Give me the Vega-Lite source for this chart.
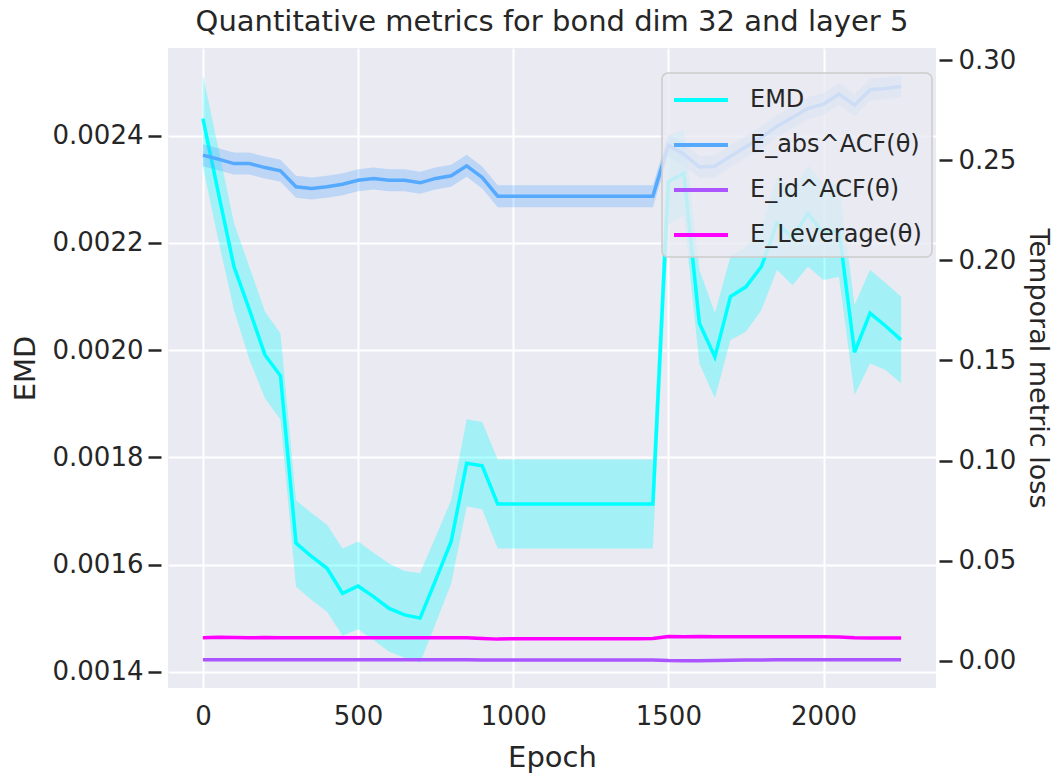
{
"$schema": "https://vega.github.io/schema/vega-lite/v6.json",
"width": 768, "height": 640,
"autosize": {"type": "none"},
"padding": {"left": 168, "top": 48, "right": 123, "bottom": 90},
"background": "white",
"title": {"text": "Quantitative metrics for bond dim 32 and layer 5", "font": "DejaVu Sans", "fontSize": 29, "fontWeight": "normal", "color": "#262626", "offset": 10, "anchor": "middle"},
"data": {"values": [
{"epoch":0,"series":"EMD","value":0.002432,"lo":0.002342,"hi":0.002513},
{"epoch":50,"series":"EMD","value":0.002293,"lo":0.002205,"hi":0.002376},
{"epoch":100,"series":"EMD","value":0.002156,"lo":0.002075,"hi":0.002237},
{"epoch":150,"series":"EMD","value":0.002075,"lo":0.001982,"hi":0.002155},
{"epoch":200,"series":"EMD","value":0.001991,"lo":0.00191,"hi":0.002072},
{"epoch":250,"series":"EMD","value":0.001952,"lo":0.00187,"hi":0.002031},
{"epoch":300,"series":"EMD","value":0.00164,"lo":0.001559,"hi":0.00172},
{"epoch":350,"series":"EMD","value":0.001615,"lo":0.001534,"hi":0.001696},
{"epoch":400,"series":"EMD","value":0.001593,"lo":0.001512,"hi":0.001674},
{"epoch":450,"series":"EMD","value":0.001546,"lo":0.001467,"hi":0.00163},
{"epoch":500,"series":"EMD","value":0.00156,"lo":0.001479,"hi":0.001643},
{"epoch":550,"series":"EMD","value":0.00154,"lo":0.001459,"hi":0.001622},
{"epoch":600,"series":"EMD","value":0.001518,"lo":0.001437,"hi":0.001602},
{"epoch":650,"series":"EMD","value":0.001506,"lo":0.001426,"hi":0.001588},
{"epoch":700,"series":"EMD","value":0.0015,"lo":0.001417,"hi":0.001584},
{"epoch":750,"series":"EMD","value":0.001571,"lo":0.00149,"hi":0.001652},
{"epoch":800,"series":"EMD","value":0.001643,"lo":0.001564,"hi":0.00172},
{"epoch":850,"series":"EMD","value":0.001789,"lo":0.001708,"hi":0.001871},
{"epoch":900,"series":"EMD","value":0.001784,"lo":0.001703,"hi":0.001866},
{"epoch":950,"series":"EMD","value":0.001713,"lo":0.00163,"hi":0.001796},
{"epoch":1000,"series":"EMD","value":0.001713,"lo":0.00163,"hi":0.001796},
{"epoch":1050,"series":"EMD","value":0.001713,"lo":0.00163,"hi":0.001796},
{"epoch":1100,"series":"EMD","value":0.001713,"lo":0.00163,"hi":0.001796},
{"epoch":1150,"series":"EMD","value":0.001713,"lo":0.00163,"hi":0.001796},
{"epoch":1200,"series":"EMD","value":0.001713,"lo":0.00163,"hi":0.001796},
{"epoch":1250,"series":"EMD","value":0.001713,"lo":0.00163,"hi":0.001796},
{"epoch":1300,"series":"EMD","value":0.001713,"lo":0.00163,"hi":0.001796},
{"epoch":1350,"series":"EMD","value":0.001713,"lo":0.00163,"hi":0.001796},
{"epoch":1400,"series":"EMD","value":0.001713,"lo":0.00163,"hi":0.001796},
{"epoch":1450,"series":"EMD","value":0.001713,"lo":0.00163,"hi":0.001796},
{"epoch":1500,"series":"EMD","value":0.002314,"lo":0.002235,"hi":0.0024},
{"epoch":1550,"series":"EMD","value":0.00233,"lo":0.00225,"hi":0.002411},
{"epoch":1600,"series":"EMD","value":0.00205,"lo":0.001975,"hi":0.00215},
{"epoch":1650,"series":"EMD","value":0.001987,"lo":0.00191,"hi":0.002069},
{"epoch":1700,"series":"EMD","value":0.0021,"lo":0.002019,"hi":0.002174},
{"epoch":1750,"series":"EMD","value":0.002118,"lo":0.002034,"hi":0.002193},
{"epoch":1800,"series":"EMD","value":0.002156,"lo":0.002075,"hi":0.00223},
{"epoch":1850,"series":"EMD","value":0.002237,"lo":0.00215,"hi":0.002324},
{"epoch":1900,"series":"EMD","value":0.00221,"lo":0.002121,"hi":0.002299},
{"epoch":1950,"series":"EMD","value":0.002255,"lo":0.002156,"hi":0.002345},
{"epoch":2000,"series":"EMD","value":0.002218,"lo":0.002131,"hi":0.002311},
{"epoch":2050,"series":"EMD","value":0.002223,"lo":0.002137,"hi":0.002311},
{"epoch":2100,"series":"EMD","value":0.001996,"lo":0.001916,"hi":0.002084},
{"epoch":2150,"series":"EMD","value":0.002069,"lo":0.001975,"hi":0.00215},
{"epoch":2200,"series":"EMD","value":0.002045,"lo":0.001963,"hi":0.002125},
{"epoch":2250,"series":"EMD","value":0.002019,"lo":0.001938,"hi":0.0021},
{"epoch":0,"series":"E_abs^ACF(θ)","value":0.2525,"lo":0.247,"hi":0.258},
{"epoch":50,"series":"E_abs^ACF(θ)","value":0.2505,"lo":0.245,"hi":0.256},
{"epoch":100,"series":"E_abs^ACF(θ)","value":0.2483,"lo":0.2428,"hi":0.2538},
{"epoch":150,"series":"E_abs^ACF(θ)","value":0.2483,"lo":0.2428,"hi":0.2538},
{"epoch":200,"series":"E_abs^ACF(θ)","value":0.2463,"lo":0.2408,"hi":0.2518},
{"epoch":250,"series":"E_abs^ACF(θ)","value":0.2447,"lo":0.2392,"hi":0.2502},
{"epoch":300,"series":"E_abs^ACF(θ)","value":0.2367,"lo":0.2312,"hi":0.2422},
{"epoch":350,"series":"E_abs^ACF(θ)","value":0.2359,"lo":0.2304,"hi":0.2414},
{"epoch":400,"series":"E_abs^ACF(θ)","value":0.2367,"lo":0.2312,"hi":0.2422},
{"epoch":450,"series":"E_abs^ACF(θ)","value":0.238,"lo":0.2325,"hi":0.2435},
{"epoch":500,"series":"E_abs^ACF(θ)","value":0.24,"lo":0.2345,"hi":0.2455},
{"epoch":550,"series":"E_abs^ACF(θ)","value":0.2409,"lo":0.2354,"hi":0.2464},
{"epoch":600,"series":"E_abs^ACF(θ)","value":0.24,"lo":0.2345,"hi":0.2455},
{"epoch":650,"series":"E_abs^ACF(θ)","value":0.24,"lo":0.2345,"hi":0.2455},
{"epoch":700,"series":"E_abs^ACF(θ)","value":0.2387,"lo":0.2332,"hi":0.2442},
{"epoch":750,"series":"E_abs^ACF(θ)","value":0.2409,"lo":0.2354,"hi":0.2464},
{"epoch":800,"series":"E_abs^ACF(θ)","value":0.2422,"lo":0.2367,"hi":0.2477},
{"epoch":850,"series":"E_abs^ACF(θ)","value":0.2472,"lo":0.2417,"hi":0.2527},
{"epoch":900,"series":"E_abs^ACF(θ)","value":0.2414,"lo":0.2359,"hi":0.2469},
{"epoch":950,"series":"E_abs^ACF(θ)","value":0.232,"lo":0.2265,"hi":0.2375},
{"epoch":1000,"series":"E_abs^ACF(θ)","value":0.232,"lo":0.2265,"hi":0.2375},
{"epoch":1050,"series":"E_abs^ACF(θ)","value":0.232,"lo":0.2265,"hi":0.2375},
{"epoch":1100,"series":"E_abs^ACF(θ)","value":0.232,"lo":0.2265,"hi":0.2375},
{"epoch":1150,"series":"E_abs^ACF(θ)","value":0.232,"lo":0.2265,"hi":0.2375},
{"epoch":1200,"series":"E_abs^ACF(θ)","value":0.232,"lo":0.2265,"hi":0.2375},
{"epoch":1250,"series":"E_abs^ACF(θ)","value":0.232,"lo":0.2265,"hi":0.2375},
{"epoch":1300,"series":"E_abs^ACF(θ)","value":0.232,"lo":0.2265,"hi":0.2375},
{"epoch":1350,"series":"E_abs^ACF(θ)","value":0.232,"lo":0.2265,"hi":0.2375},
{"epoch":1400,"series":"E_abs^ACF(θ)","value":0.232,"lo":0.2265,"hi":0.2375},
{"epoch":1450,"series":"E_abs^ACF(θ)","value":0.232,"lo":0.2265,"hi":0.2375},
{"epoch":1500,"series":"E_abs^ACF(θ)","value":0.2575,"lo":0.252,"hi":0.263},
{"epoch":1550,"series":"E_abs^ACF(θ)","value":0.253,"lo":0.2475,"hi":0.2585},
{"epoch":1600,"series":"E_abs^ACF(θ)","value":0.2466,"lo":0.2411,"hi":0.2521},
{"epoch":1650,"series":"E_abs^ACF(θ)","value":0.247,"lo":0.2415,"hi":0.2525},
{"epoch":1700,"series":"E_abs^ACF(θ)","value":0.252,"lo":0.2465,"hi":0.2575},
{"epoch":1750,"series":"E_abs^ACF(θ)","value":0.2567,"lo":0.2512,"hi":0.2622},
{"epoch":1800,"series":"E_abs^ACF(θ)","value":0.2613,"lo":0.2558,"hi":0.2668},
{"epoch":1850,"series":"E_abs^ACF(θ)","value":0.267,"lo":0.2615,"hi":0.2725},
{"epoch":1900,"series":"E_abs^ACF(θ)","value":0.2713,"lo":0.2658,"hi":0.2768},
{"epoch":1950,"series":"E_abs^ACF(θ)","value":0.2759,"lo":0.2704,"hi":0.2814},
{"epoch":2000,"series":"E_abs^ACF(θ)","value":0.278,"lo":0.2725,"hi":0.2835},
{"epoch":2050,"series":"E_abs^ACF(θ)","value":0.283,"lo":0.2775,"hi":0.2885},
{"epoch":2100,"series":"E_abs^ACF(θ)","value":0.2774,"lo":0.2719,"hi":0.2829},
{"epoch":2150,"series":"E_abs^ACF(θ)","value":0.2852,"lo":0.2797,"hi":0.2907},
{"epoch":2200,"series":"E_abs^ACF(θ)","value":0.2858,"lo":0.2803,"hi":0.2913},
{"epoch":2250,"series":"E_abs^ACF(θ)","value":0.2868,"lo":0.2813,"hi":0.2923},
{"epoch":0,"series":"E_id^ACF(θ)","value":0.0006,"lo":0.0002,"hi":0.001},
{"epoch":50,"series":"E_id^ACF(θ)","value":0.0006,"lo":0.0002,"hi":0.001},
{"epoch":100,"series":"E_id^ACF(θ)","value":0.0006,"lo":0.0002,"hi":0.001},
{"epoch":150,"series":"E_id^ACF(θ)","value":0.0006,"lo":0.0002,"hi":0.001},
{"epoch":200,"series":"E_id^ACF(θ)","value":0.0006,"lo":0.0002,"hi":0.001},
{"epoch":250,"series":"E_id^ACF(θ)","value":0.0006,"lo":0.0002,"hi":0.001},
{"epoch":300,"series":"E_id^ACF(θ)","value":0.0006,"lo":0.0002,"hi":0.001},
{"epoch":350,"series":"E_id^ACF(θ)","value":0.0006,"lo":0.0002,"hi":0.001},
{"epoch":400,"series":"E_id^ACF(θ)","value":0.0006,"lo":0.0002,"hi":0.001},
{"epoch":450,"series":"E_id^ACF(θ)","value":0.0006,"lo":0.0002,"hi":0.001},
{"epoch":500,"series":"E_id^ACF(θ)","value":0.0006,"lo":0.0002,"hi":0.001},
{"epoch":550,"series":"E_id^ACF(θ)","value":0.0006,"lo":0.0002,"hi":0.001},
{"epoch":600,"series":"E_id^ACF(θ)","value":0.0006,"lo":0.0002,"hi":0.001},
{"epoch":650,"series":"E_id^ACF(θ)","value":0.0006,"lo":0.0002,"hi":0.001},
{"epoch":700,"series":"E_id^ACF(θ)","value":0.0006,"lo":0.0002,"hi":0.001},
{"epoch":750,"series":"E_id^ACF(θ)","value":0.0006,"lo":0.0002,"hi":0.001},
{"epoch":800,"series":"E_id^ACF(θ)","value":0.0006,"lo":0.0002,"hi":0.001},
{"epoch":850,"series":"E_id^ACF(θ)","value":0.0006,"lo":0.0002,"hi":0.001},
{"epoch":900,"series":"E_id^ACF(θ)","value":0.0005,"lo":0.0001,"hi":0.0009},
{"epoch":950,"series":"E_id^ACF(θ)","value":0.0005,"lo":0.0001,"hi":0.0009},
{"epoch":1000,"series":"E_id^ACF(θ)","value":0.0005,"lo":0.0001,"hi":0.0009},
{"epoch":1050,"series":"E_id^ACF(θ)","value":0.0005,"lo":0.0001,"hi":0.0009},
{"epoch":1100,"series":"E_id^ACF(θ)","value":0.0005,"lo":0.0001,"hi":0.0009},
{"epoch":1150,"series":"E_id^ACF(θ)","value":0.0005,"lo":0.0001,"hi":0.0009},
{"epoch":1200,"series":"E_id^ACF(θ)","value":0.0005,"lo":0.0001,"hi":0.0009},
{"epoch":1250,"series":"E_id^ACF(θ)","value":0.0005,"lo":0.0001,"hi":0.0009},
{"epoch":1300,"series":"E_id^ACF(θ)","value":0.0005,"lo":0.0001,"hi":0.0009},
{"epoch":1350,"series":"E_id^ACF(θ)","value":0.0005,"lo":0.0001,"hi":0.0009},
{"epoch":1400,"series":"E_id^ACF(θ)","value":0.0005,"lo":0.0001,"hi":0.0009},
{"epoch":1450,"series":"E_id^ACF(θ)","value":0.0005,"lo":0.0001,"hi":0.0009},
{"epoch":1500,"series":"E_id^ACF(θ)","value":0.0002,"lo":-0.0002,"hi":0.0006},
{"epoch":1550,"series":"E_id^ACF(θ)","value":0.0001,"lo":-0.0003,"hi":0.0005},
{"epoch":1600,"series":"E_id^ACF(θ)","value":0.0001,"lo":-0.0003,"hi":0.0005},
{"epoch":1650,"series":"E_id^ACF(θ)","value":0.0002,"lo":-0.0002,"hi":0.0006},
{"epoch":1700,"series":"E_id^ACF(θ)","value":0.0004,"lo":0.0,"hi":0.0008},
{"epoch":1750,"series":"E_id^ACF(θ)","value":0.0005,"lo":0.0001,"hi":0.0009},
{"epoch":1800,"series":"E_id^ACF(θ)","value":0.0005,"lo":0.0001,"hi":0.0009},
{"epoch":1850,"series":"E_id^ACF(θ)","value":0.0006,"lo":0.0002,"hi":0.001},
{"epoch":1900,"series":"E_id^ACF(θ)","value":0.0006,"lo":0.0002,"hi":0.001},
{"epoch":1950,"series":"E_id^ACF(θ)","value":0.0006,"lo":0.0002,"hi":0.001},
{"epoch":2000,"series":"E_id^ACF(θ)","value":0.0006,"lo":0.0002,"hi":0.001},
{"epoch":2050,"series":"E_id^ACF(θ)","value":0.0006,"lo":0.0002,"hi":0.001},
{"epoch":2100,"series":"E_id^ACF(θ)","value":0.0006,"lo":0.0002,"hi":0.001},
{"epoch":2150,"series":"E_id^ACF(θ)","value":0.0006,"lo":0.0002,"hi":0.001},
{"epoch":2200,"series":"E_id^ACF(θ)","value":0.0006,"lo":0.0002,"hi":0.001},
{"epoch":2250,"series":"E_id^ACF(θ)","value":0.0006,"lo":0.0002,"hi":0.001},
{"epoch":0,"series":"E_Leverage(θ)","value":0.0116,"lo":0.0112,"hi":0.012},
{"epoch":50,"series":"E_Leverage(θ)","value":0.0118,"lo":0.0114,"hi":0.0122},
{"epoch":100,"series":"E_Leverage(θ)","value":0.0117,"lo":0.0113,"hi":0.0121},
{"epoch":150,"series":"E_Leverage(θ)","value":0.0116,"lo":0.0112,"hi":0.012},
{"epoch":200,"series":"E_Leverage(θ)","value":0.0117,"lo":0.0113,"hi":0.0121},
{"epoch":250,"series":"E_Leverage(θ)","value":0.0116,"lo":0.0112,"hi":0.012},
{"epoch":300,"series":"E_Leverage(θ)","value":0.0116,"lo":0.0112,"hi":0.012},
{"epoch":350,"series":"E_Leverage(θ)","value":0.0116,"lo":0.0112,"hi":0.012},
{"epoch":400,"series":"E_Leverage(θ)","value":0.0116,"lo":0.0112,"hi":0.012},
{"epoch":450,"series":"E_Leverage(θ)","value":0.0116,"lo":0.0112,"hi":0.012},
{"epoch":500,"series":"E_Leverage(θ)","value":0.0116,"lo":0.0112,"hi":0.012},
{"epoch":550,"series":"E_Leverage(θ)","value":0.0116,"lo":0.0112,"hi":0.012},
{"epoch":600,"series":"E_Leverage(θ)","value":0.0116,"lo":0.0112,"hi":0.012},
{"epoch":650,"series":"E_Leverage(θ)","value":0.0116,"lo":0.0112,"hi":0.012},
{"epoch":700,"series":"E_Leverage(θ)","value":0.0116,"lo":0.0112,"hi":0.012},
{"epoch":750,"series":"E_Leverage(θ)","value":0.0116,"lo":0.0112,"hi":0.012},
{"epoch":800,"series":"E_Leverage(θ)","value":0.0116,"lo":0.0112,"hi":0.012},
{"epoch":850,"series":"E_Leverage(θ)","value":0.0116,"lo":0.0112,"hi":0.012},
{"epoch":900,"series":"E_Leverage(θ)","value":0.0112,"lo":0.0108,"hi":0.0116},
{"epoch":950,"series":"E_Leverage(θ)","value":0.0109,"lo":0.0105,"hi":0.0113},
{"epoch":1000,"series":"E_Leverage(θ)","value":0.0111,"lo":0.0107,"hi":0.0115},
{"epoch":1050,"series":"E_Leverage(θ)","value":0.0111,"lo":0.0107,"hi":0.0115},
{"epoch":1100,"series":"E_Leverage(θ)","value":0.0111,"lo":0.0107,"hi":0.0115},
{"epoch":1150,"series":"E_Leverage(θ)","value":0.0111,"lo":0.0107,"hi":0.0115},
{"epoch":1200,"series":"E_Leverage(θ)","value":0.0111,"lo":0.0107,"hi":0.0115},
{"epoch":1250,"series":"E_Leverage(θ)","value":0.0111,"lo":0.0107,"hi":0.0115},
{"epoch":1300,"series":"E_Leverage(θ)","value":0.0111,"lo":0.0107,"hi":0.0115},
{"epoch":1350,"series":"E_Leverage(θ)","value":0.0111,"lo":0.0107,"hi":0.0115},
{"epoch":1400,"series":"E_Leverage(θ)","value":0.0111,"lo":0.0107,"hi":0.0115},
{"epoch":1450,"series":"E_Leverage(θ)","value":0.0112,"lo":0.0108,"hi":0.0116},
{"epoch":1500,"series":"E_Leverage(θ)","value":0.0122,"lo":0.0118,"hi":0.0126},
{"epoch":1550,"series":"E_Leverage(θ)","value":0.0121,"lo":0.0117,"hi":0.0125},
{"epoch":1600,"series":"E_Leverage(θ)","value":0.0122,"lo":0.0118,"hi":0.0126},
{"epoch":1650,"series":"E_Leverage(θ)","value":0.0121,"lo":0.0117,"hi":0.0125},
{"epoch":1700,"series":"E_Leverage(θ)","value":0.0121,"lo":0.0117,"hi":0.0125},
{"epoch":1750,"series":"E_Leverage(θ)","value":0.0121,"lo":0.0117,"hi":0.0125},
{"epoch":1800,"series":"E_Leverage(θ)","value":0.0121,"lo":0.0117,"hi":0.0125},
{"epoch":1850,"series":"E_Leverage(θ)","value":0.0121,"lo":0.0117,"hi":0.0125},
{"epoch":1900,"series":"E_Leverage(θ)","value":0.0121,"lo":0.0117,"hi":0.0125},
{"epoch":1950,"series":"E_Leverage(θ)","value":0.0121,"lo":0.0117,"hi":0.0125},
{"epoch":2000,"series":"E_Leverage(θ)","value":0.0121,"lo":0.0117,"hi":0.0125},
{"epoch":2050,"series":"E_Leverage(θ)","value":0.012,"lo":0.0116,"hi":0.0124},
{"epoch":2100,"series":"E_Leverage(θ)","value":0.0116,"lo":0.0112,"hi":0.012},
{"epoch":2150,"series":"E_Leverage(θ)","value":0.0114,"lo":0.011,"hi":0.0118},
{"epoch":2200,"series":"E_Leverage(θ)","value":0.0114,"lo":0.011,"hi":0.0118},
{"epoch":2250,"series":"E_Leverage(θ)","value":0.0114,"lo":0.011,"hi":0.0118}
]},
"encoding": {
  "x": {"field": "epoch", "type": "quantitative", "scale": {"domain": [-112.5, 2362.5], "nice": false, "zero": false},
        "axis": {"title": "Epoch", "values": [0, 500, 1000, 1500, 2000], "format": "d", "ticks": false, "labelPadding": 15, "titlePadding": 14}}
},
"layer": [
  {
    "transform": [{"filter": "datum.series === 'EMD'"}],
    "encoding": {
      "y": {"field": "value", "type": "quantitative", "scale": {"domain": [0.0013696, 0.0025636], "nice": false, "zero": false},
            "axis": {"title": "EMD", "orient": "left", "values": [0.0014, 0.0016, 0.0018, 0.002, 0.0022, 0.0024], "format": ".4f", "offset": 7, "tickSize": 13, "tickWidth": 2.5, "tickColor": "#262626", "labelPadding": 5, "titlePadding": 12}}
    },
    "layer": [
      {"mark": {"type": "area", "opacity": 0.3, "clip": true, "color": "#00FFFF"},
       "encoding": {
         "y": {"field": "lo", "type": "quantitative", "scale": {"domain": [0.0013696, 0.0025636], "nice": false, "zero": false},
               "axis": {"title": "EMD", "orient": "left", "values": [0.0014, 0.0016, 0.0018, 0.002, 0.0022, 0.0024], "format": ".4f", "offset": 7, "tickSize": 13, "tickWidth": 2.5, "tickColor": "#262626", "labelPadding": 5, "titlePadding": 12}},
         "y2": {"field": "hi"}
       }},
      {"mark": {"type": "line", "strokeWidth": 3.5, "clip": true},
       "encoding": {
         "color": {"field": "series", "type": "nominal", "scale": {"domain": ["EMD", "E_abs^ACF(θ)", "E_id^ACF(θ)", "E_Leverage(θ)"], "range": ["#00FFFF", "#55AAFF", "#AA55FF", "#FF00FF"]},
                   "legend": {"title": null, "orient": "none", "legendX": 494, "legendY": 25}}
       }}
    ]
  },
  {
    "transform": [{"filter": "datum.series !== 'EMD'"}],
    "encoding": {
      "y": {"field": "value", "type": "quantitative", "scale": {"domain": [-0.0135, 0.306], "nice": false, "zero": false},
            "axis": {"title": "Temporal metric loss", "orient": "right", "values": [0, 0.05, 0.1, 0.15, 0.2, 0.25, 0.3], "format": ".2f", "offset": 3, "tickSize": 13, "tickWidth": 2.5, "tickColor": "#262626", "labelPadding": 6, "titlePadding": 8, "titleFontSize": 27}}
    },
    "layer": [
      {"transform": [{"filter": "datum.series === 'E_abs^ACF(θ)'"}],
       "mark": {"type": "area", "opacity": 0.3, "clip": true, "color": "#55AAFF"},
       "encoding": {
         "y": {"field": "lo", "type": "quantitative", "scale": {"domain": [-0.0135, 0.306], "nice": false, "zero": false},
               "axis": {"title": "Temporal metric loss", "orient": "right", "values": [0, 0.05, 0.1, 0.15, 0.2, 0.25, 0.3], "format": ".2f", "offset": 3, "tickSize": 13, "tickWidth": 2.5, "tickColor": "#262626", "labelPadding": 6, "titlePadding": 8, "titleFontSize": 27}},
         "y2": {"field": "hi"}
       }},
      {"transform": [{"filter": "datum.series === 'E_id^ACF(θ)'"}],
       "mark": {"type": "area", "opacity": 0.3, "clip": true, "color": "#AA55FF"},
       "encoding": {
         "y": {"field": "lo", "type": "quantitative", "scale": {"domain": [-0.0135, 0.306], "nice": false, "zero": false},
               "axis": {"title": "Temporal metric loss", "orient": "right", "values": [0, 0.05, 0.1, 0.15, 0.2, 0.25, 0.3], "format": ".2f", "offset": 3, "tickSize": 13, "tickWidth": 2.5, "tickColor": "#262626", "labelPadding": 6, "titlePadding": 8, "titleFontSize": 27}},
         "y2": {"field": "hi"}
       }},
      {"transform": [{"filter": "datum.series === 'E_Leverage(θ)'"}],
       "mark": {"type": "area", "opacity": 0.3, "clip": true, "color": "#FF00FF"},
       "encoding": {
         "y": {"field": "lo", "type": "quantitative", "scale": {"domain": [-0.0135, 0.306], "nice": false, "zero": false},
               "axis": {"title": "Temporal metric loss", "orient": "right", "values": [0, 0.05, 0.1, 0.15, 0.2, 0.25, 0.3], "format": ".2f", "offset": 3, "tickSize": 13, "tickWidth": 2.5, "tickColor": "#262626", "labelPadding": 6, "titlePadding": 8, "titleFontSize": 27}},
         "y2": {"field": "hi"}
       }},
      {"mark": {"type": "line", "strokeWidth": 3.5, "clip": true},
       "encoding": {
         "color": {"field": "series", "type": "nominal", "scale": {"domain": ["EMD", "E_abs^ACF(θ)", "E_id^ACF(θ)", "E_Leverage(θ)"], "range": ["#00FFFF", "#55AAFF", "#AA55FF", "#FF00FF"]},
                   "legend": {"title": null, "orient": "none", "legendX": 494, "legendY": 25}}
       }}
    ]
  }
],
"resolve": {"scale": {"y": "independent"}},
"config": {
  "font": "DejaVu Sans",
  "view": {"fill": "#EAEAF2", "stroke": null},
  "axis": {"domain": false, "grid": true, "gridColor": "#FFFFFF", "gridWidth": 2, "gridOpacity": 1,
           "labelFont": "DejaVu Sans", "labelFontSize": 26, "labelColor": "#262626",
           "titleFont": "DejaVu Sans", "titleFontSize": 29, "titleFontWeight": "normal", "titleColor": "#262626"},
  "legend": {"labelFont": "DejaVu Sans", "labelFontSize": 24, "labelColor": "#262626", "labelLimit": 400,
             "symbolType": "M-1.8,0H1.8", "symbolSize": 900, "symbolStrokeWidth": 4, "symbolOffset": 12,
             "labelOffset": 32, "rowPadding": 16, "padding": 10,
             "fillColor": "rgba(234,234,242,0.8)", "strokeColor": "#CCCCCC", "strokeWidth": 1.5, "cornerRadius": 6}
}
}
